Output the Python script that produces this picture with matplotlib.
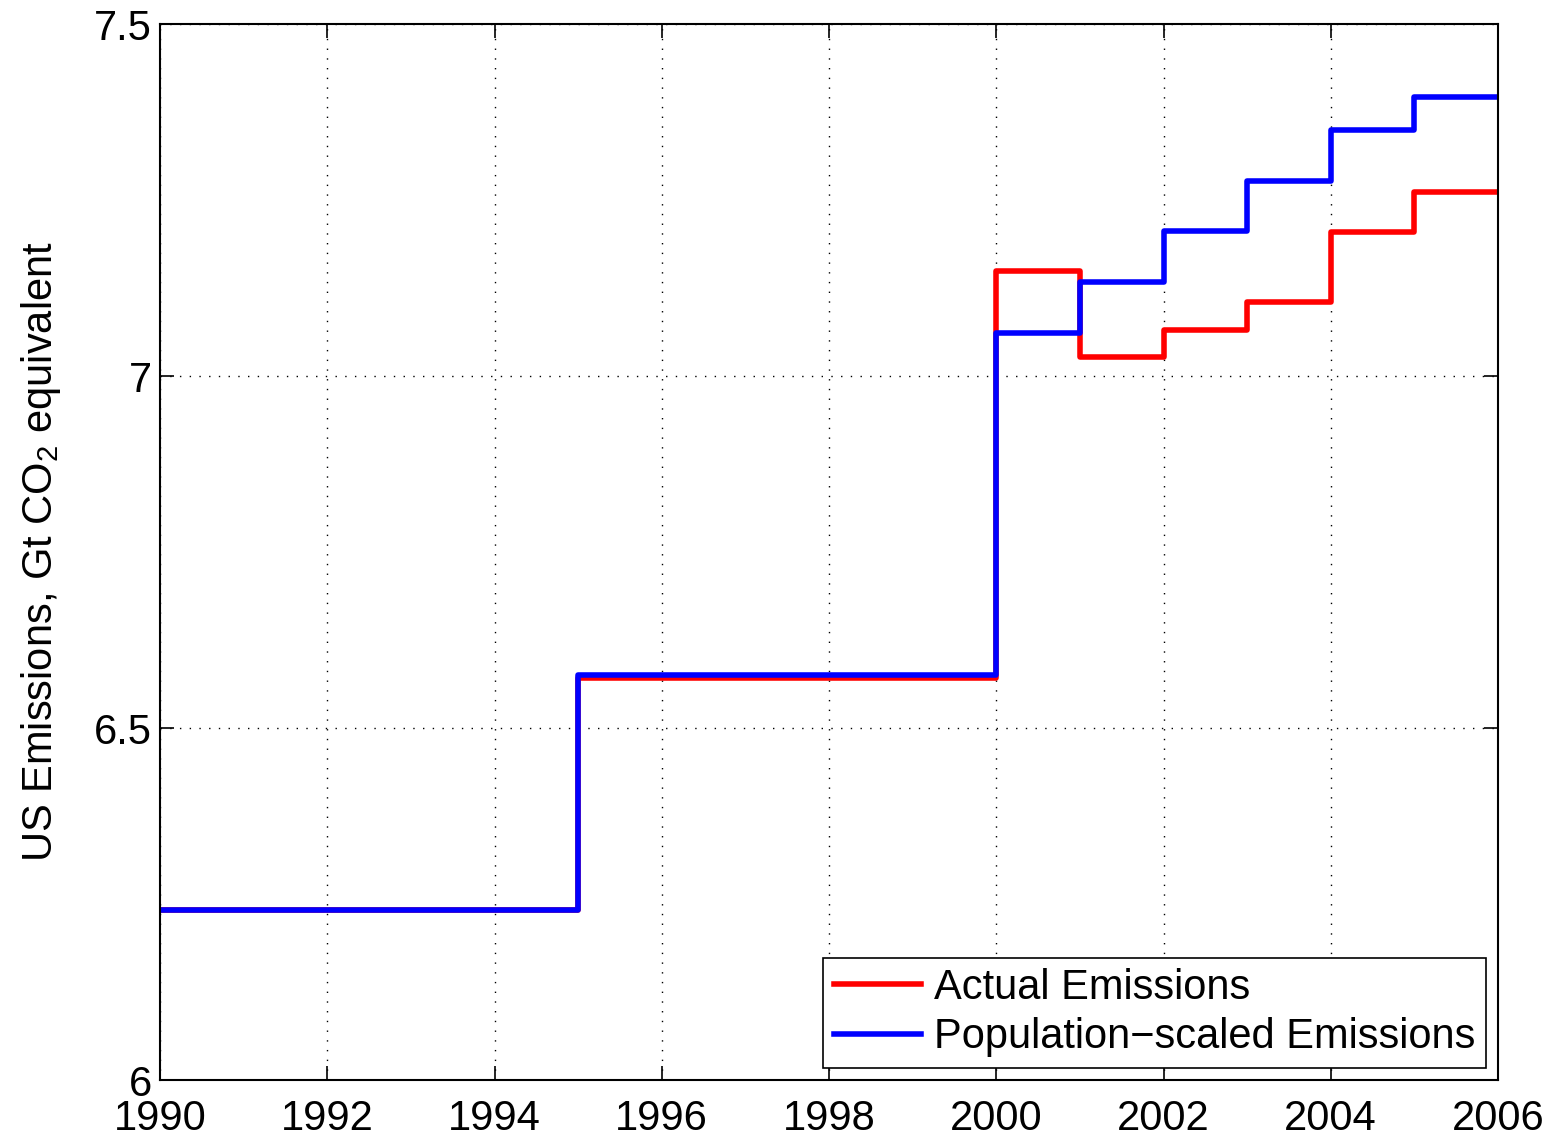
import numpy as np
import matplotlib
matplotlib.use("Agg")
from matplotlib import pyplot as plt

# step data (value holds until next year)
years = [1990, 1995, 2000, 2001, 2002, 2003, 2004, 2005, 2006]
actual = [6.242, 6.571, 7.149, 7.027, 7.065, 7.105, 7.205, 7.261, 7.261]
pop_scaled = [6.242, 6.575, 7.061, 7.134, 7.206, 7.277, 7.349, 7.396, 7.396]

xticks = [1990, 1992, 1994, 1996, 1998, 2000, 2002, 2004, 2006]
yticks = [6, 6.5, 7, 7.5]
ytick_labels = ["6", "6.5", "7", "7.5"]

plt.rcParams['font.family'] = ['Liberation Sans', 'DejaVu Sans']
plt.rcParams['mathtext.fontset'] = 'custom'
plt.rcParams['mathtext.rm'] = 'Liberation Sans'
plt.rcParams['mathtext.it'] = 'Liberation Sans'

fig = plt.figure(figsize=(15.47, 11.34), dpi=100)
ax = fig.add_axes([160/1547, 1 - 1080/1134, (1498-160)/1547, (1080-24)/1134])

ax.step(years, actual, where='post', color='#ff0000', lw=4, label='Actual Emissions')
ax.step(years, pop_scaled, where='post', color='#0000ff', lw=4, label='Population\u2212scaled Emissions')

ax.set_xlim(1990, 2006)
ax.set_ylim(6, 7.5)
ax.set_xticks(xticks)
ax.set_yticks(yticks)
ax.set_yticklabels(ytick_labels)
ax.tick_params(axis='both', which='both', direction='in', top=True, right=True,
               length=10, width=1.2, labelsize=30, pad=6)
ax.tick_params(axis='x', pad=14)
ax.grid(linestyle=(0, (1, 6)), linewidth=1.0, color='k')
for sp in ax.spines.values():
    sp.set_linewidth(1.5)

ax.set_ylabel('US Emissions, Gt CO$_2$ equivalent', fontsize=30, labelpad=22)

leg = ax.legend(loc='lower right', fontsize=30, frameon=True, fancybox=False,
                edgecolor='k', framealpha=1, handlelength=2.1, handletextpad=0.3,
                borderpad=0.25, labelspacing=0.22, borderaxespad=0.3)
leg.get_frame().set_linewidth(1.2)

fig.savefig('out.png', dpi=100)
